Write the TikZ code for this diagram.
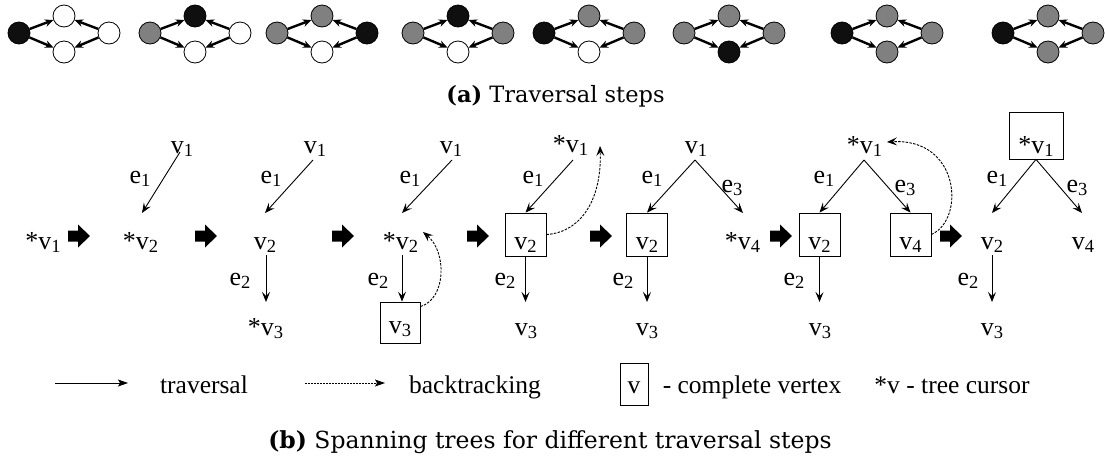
\documentclass[tikz,border=0pt]{standalone}
\usepackage{fontspec}
\setmainfont{Liberation Serif}
\newfontfamily\capfont{DejaVu Serif}
\usetikzlibrary{arrows.meta,calc}

% subscript index of a vertex or edge label
\newcommand\vsub[1]{\raisebox{-3pt}{\fontsize{18.5}{18.5}\selectfont #1}}
% filled block arrow between two traversal steps, tail at (#1,#2)
\newcommand\blockarrow[2]{%
  \fill[black] (#1,#2) ++(0,-5.5) -- ++(10,0) -- ++(0,-6) -- ++(12,11.5)
    -- ++(-12,11.5) -- ++(0,-6) -- ++(-10,0) -- cycle;}

\definecolor{vgray}{gray}{0.5}
\definecolor{vblack}{gray}{0.06}

\begin{document}
\begin{tikzpicture}[x=1pt,y=-1pt,
  lab/.style={inner sep=0pt, anchor=base, font=\fontsize{26}{28}\selectfont},
  cbox/.style={lab, draw, line width=0.8pt, minimum width=41pt,
    text height=36pt, text depth=7pt},
  tr/.style={line width=0.9pt, -{Stealth[length=10pt,width=8pt,inset=4pt]}},
  bt/.style={line width=0.9pt, dash pattern=on 2.5pt off 1.3pt,
    -{Stealth[length=10pt,width=8pt,inset=4pt]}},
  gv/.style={circle, draw, line width=0.8pt, minimum size=22pt, inner sep=0pt},
  vk/.style={fill=vblack}, vw/.style={fill=white}, vg/.style={fill=vgray},
  ge/.style={line width=2.4pt, -{Stealth[length=8.5pt,width=7.5pt]}},
  captxt/.style={inner sep=0pt, anchor=base, font=\capfont\fontsize{22.5}{26}\selectfont},
  leg/.style={inner sep=0pt, anchor=base, font=\fontsize{25.5}{28}\selectfont}]

\useasboundingbox (0,0) rectangle (1105,464);

% ---------- (a) traversal steps on the four-vertex graph ----------
\foreach \x/\ca/\cb/\cc/\cd [count=\i] in
  {19/vk/vw/vw/vw, 150/vg/vk/vw/vw, 277/vg/vg/vw/vk, 413/vg/vk/vw/vg,
   544/vk/vg/vw/vg, 684/vg/vg/vk/vg, 842/vk/vg/vg/vg, 1003/vk/vg/vg/vg}{
  \node[gv,\ca] (g\i l) at (\x,33) {};
  \node[gv,\cb] (g\i t) at (\x+45,16) {};
  \node[gv,\cc] (g\i b) at (\x+45,52) {};
  \node[gv,\cd] (g\i r) at (\x+90,33) {};
  \draw[ge] (g\i l) -- (g\i t);
  \draw[ge] (g\i l) -- (g\i b);
  \draw[ge] (g\i r) -- (g\i t);
  \draw[ge] (g\i r) -- (g\i b);
}
\node[captxt] (capa) at (555.5,102) {\textbf{(a)} Traversal steps};

% ---------- (b) spanning trees ----------
% step 0
\node[lab] (s0v1) at (49.5,249) {\llap{*}v\vsub{1}};
\blockarrow{68}{236}

% step 1
\node[lab] (s1v1) at (182,153) {v\vsub{1}};
\node[lab] (s1e1) at (140,183) {e\vsub{1}};
\node[lab] (s1v2) at (147,249) {\llap{*}v\vsub{2}};
\draw[tr] ($(s1v1.base)+(-2,-1)$) -- ($(s1v2.base)+(-5,-36)$);
\blockarrow{195}{236}

% step 2
\node[lab] (s2v1) at (315,153) {v\vsub{1}};
\node[lab] (s2e1) at (271,183) {e\vsub{1}};
\node[lab] (s2v2) at (265,249) {v\vsub{2}};
\node[lab] (s2e2) at (240,285) {e\vsub{2}};
\node[lab] (s2v3) at (272,335) {\llap{*}v\vsub{3}};
\draw[tr] ($(s2v1.base)+(-2,7)$) -- ($(s2v2.base)+(0,-36)$);
\draw[tr] ($(s2v2.base)+(1,6)$) -- ($(s2v3.base)+(-6,-33)$);
\blockarrow{332}{236}

% step 3
\node[lab] (s3v1) at (451,153) {v\vsub{1}};
\node[lab] (s3e1) at (410,183) {e\vsub{1}};
\node[lab] (s3v2) at (407,249) {\llap{*}v\vsub{2}};
\node[lab] (s3e2) at (378,285) {e\vsub{2}};
\node[cbox, minimum width=40pt, text height=31pt, text depth=10pt] (s3v3) at (400,333) {v\vsub{3}};
\draw[tr] ($(s3v1.base)+(1,7)$) -- ($(s3v2.base)+(-5,-36)$);
\draw[tr] ($(s3v2.base)+(-5,6)$) -- ($(s3v3.north)+(2,0)$);
\draw[bt] ($(s3v3.north east)+(0,5)$)
  .. controls ($(s3v3.north east)+(26,-3)$) and ($(s3v2.base)+(40,3)$)
  .. ($(s3v2.base)+(16,-17)$);
\blockarrow{467}{236}

% step 4
\node[lab] (s4v1) at (577,152) {\llap{*}v\vsub{1}};
\node[lab] (s4e1) at (533,183) {e\vsub{1}};
\node[cbox] (s4v2) at (525.5,249) {v\vsub{2}};
\node[lab] (s4e2) at (505,285) {e\vsub{2}};
\node[lab] (s4v3) at (526,335) {v\vsub{3}};
\draw[tr] ($(s4v1.base)+(-4,8)$) -- (s4v2.north);
\draw[tr] (s4v2.south) -- ($(s4v3.base)+(-0.5,-33)$);
\draw[bt] (s4v2.east)
  .. controls ($(s4v2.east)+(34,-2)$) and ($(s4v1.base)+(25,48)$)
  .. ($(s4v1.base)+(23,-6)$);
\blockarrow{590}{236}

% step 5
\node[lab] (s5v1) at (696,153) {v\vsub{1}};
\node[lab] (s5e1) at (652,183) {e\vsub{1}};
\node[lab] (s5e3) at (732,192) {e\vsub{3}};
\node[cbox] (s5v2) at (647,249) {v\vsub{2}};
\node[lab] (s5v4) at (749,249) {\llap{*}v\vsub{4}};
\node[lab] (s5e2) at (623,285) {e\vsub{2}};
\node[lab] (s5v3) at (647,335) {v\vsub{3}};
\draw[tr] ($(s5v1.base)+(-1,7)$) -- (s5v2.north);
\draw[tr] ($(s5v1.base)+(-1,7)$) -- ($(s5v4.base)+(-6,-36)$);
\draw[tr] (s5v2.south) -- ($(s5v3.base)+(0,-33)$);
\blockarrow{770}{236}

% step 6
\node[lab] (s6v1) at (871,153) {\llap{*}v\vsub{1}};
\node[lab] (s6e1) at (824,183) {e\vsub{1}};
\node[lab] (s6e3) at (905,192) {e\vsub{3}};
\node[cbox] (s6v2) at (819.5,249) {v\vsub{2}};
\node[cbox] (s6v4) at (910.5,249) {v\vsub{4}};
\node[lab] (s6e2) at (794,285) {e\vsub{2}};
\node[lab] (s6v3) at (820,335) {v\vsub{3}};
\draw[tr] ($(s6v1.base)+(-7,7)$) -- (s6v2.north);
\draw[tr] ($(s6v1.base)+(-7,7)$) -- (s6v4.north);
\draw[tr] (s6v2.south) -- ($(s6v3.base)+(-0.5,-33)$);
\draw[bt] (s6v4.east)
  .. controls ($(s6v4.east)+(34,-15)$) and ($(s6v1.base)+(89,-15)$)
  .. ($(s6v1.base)+(16,-11)$);
\blockarrow{940}{236}

% step 7
\node[cbox, minimum width=54pt, text height=41pt, text depth=6pt] (s7v1) at (1036,153) {*v\vsub{1}};
\node[lab] (s7e1) at (997,183) {e\vsub{1}};
\node[lab] (s7e3) at (1077,192) {e\vsub{3}};
\node[lab] (s7v2) at (992,249) {v\vsub{2}};
\node[lab] (s7v4) at (1083,249) {v\vsub{4}};
\node[lab] (s7e2) at (968,285) {e\vsub{2}};
\node[lab] (s7v3) at (992,335) {v\vsub{3}};
\draw[tr] (s7v1.south) -- ($(s7v2.base)+(0,-36)$);
\draw[tr] (s7v1.south) -- ($(s7v4.base)+(-1,-36)$);
\draw[tr] ($(s7v2.base)+(0,6)$) -- ($(s7v3.base)+(0,-33)$);

% ---------- legend ----------
\coordinate (lta) at (55,383);
\coordinate (ltb) at (128,383);
\draw[line width=0.9pt, -{Stealth[length=10pt,width=7pt,inset=2pt]}] (lta) -- (ltb);
\node[leg] (ltr) at (204,393) {traversal};
\coordinate (lba) at (305,383);
\coordinate (lbb) at (385,383);
\draw[line width=0.9pt, dash pattern=on 2pt off 1pt, -{Stealth[length=10pt,width=7pt,inset=2pt]}] (lba) -- (lbb);
\node[leg] (lbk) at (475,393) {backtracking};
\node[leg, draw, line width=0.8pt, minimum width=28pt, text height=30pt, text depth=12pt] (lbox) at (634,393) {v};
\node[leg] (lcv) at (752,393) {- complete vertex};
\node[leg] (lcur) at (952,393) {*v - tree cursor};

\node[captxt, font=\capfont\fontsize{23.5}{27}\selectfont] (capb) at (550,448) {\textbf{(b)} Spanning trees for different traversal steps};
\end{tikzpicture}
\end{document}
